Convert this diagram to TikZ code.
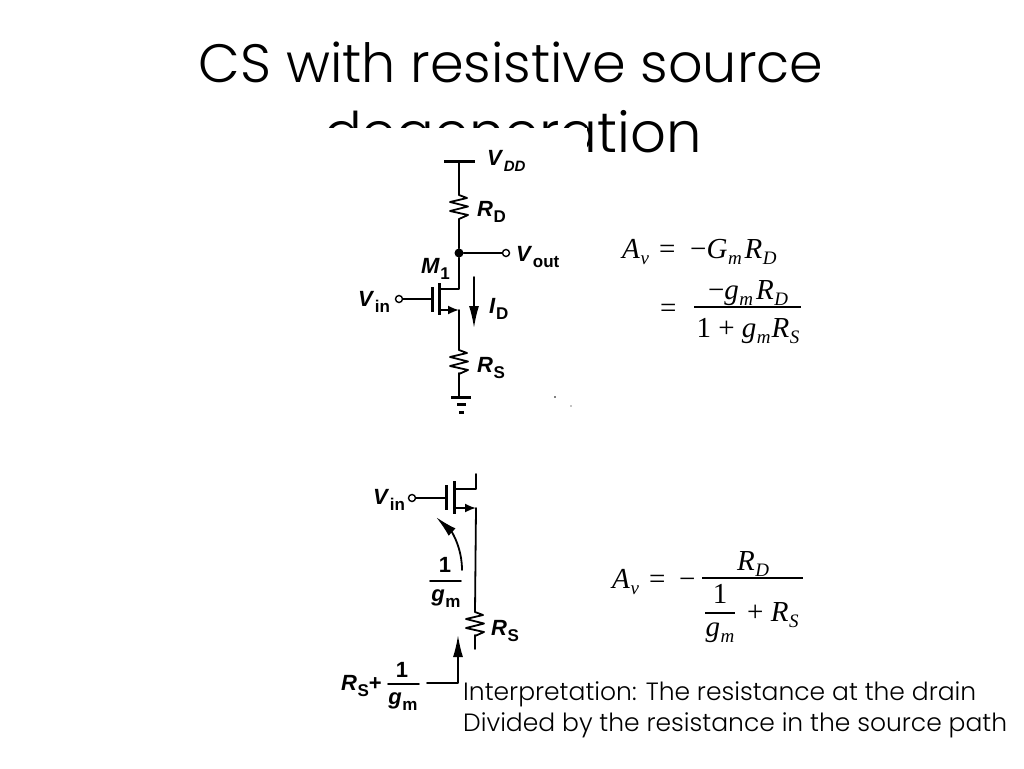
\documentclass[tikz,border=0pt]{standalone}
\usepackage{fontspec}
\setmainfont{Liberation Sans}
\newfontfamily\titlefont{Poppins Light}
\newfontfamily\bodyfont{Poppins Light}
\newfontfamily\eqfont{Liberation Serif}
\usetikzlibrary{arrows.meta}
\newcommand{\lblsub}[3]{\textbf{\textit{#1}}\kern.5pt\raisebox{-.3em}{\fontsize{#3}{#3}\selectfont\textbf{#2}}}
\newcommand{\iv}[1]{\textit{#1}}
\newcommand{\sbs}[1]{\kern.5pt\raisebox{-.22em}{\fontsize{19}{19}\selectfont\textit{#1}}}
\tikzset{
  x=1pt,y=-1pt,
  wire/.style={line width=1.8pt,black,line cap=round,line join=round},
  thick wire/.style={line width=3pt,black},
  title text/.style={inner sep=0,font=\titlefont\fontsize{54}{54}\selectfont,anchor=base},
  title wide/.style={inner sep=0,font=\titlefont\fontsize{56}{56}\selectfont,anchor=base},
  note text/.style={inner sep=0,font=\bodyfont\fontsize{25}{25}\selectfont,anchor=base west},
  clabel/.style={inner sep=0,font=\fontsize{22}{22}\selectfont,anchor=base west},
  eq/.style={inner sep=0,font=\eqfont\fontsize{29}{29}\selectfont,anchor=base west},
  port/.style={circle,draw=black,line width=1.4pt,fill=white,minimum size=7pt,inner sep=0},
  dot/.style={circle,fill=black,minimum size=9pt,inner sep=0},
  big tip/.style={-{Latex[length=22pt,width=10pt]}},
  src tip/.style={-{Latex[length=11pt,width=9pt]}},
  pics/zigzag/.style={code={
    \draw[wire] (0,0) -- (8,3) -- (-9,7) -- (9,11.5) -- (-9,16) -- (9,20) -- (0,24);
  }},
}
\begin{document}
\begin{tikzpicture}
\useasboundingbox (0,0) rectangle (1024,768);
\fill[white] (0,0) rectangle (1024,768);
% title, cut by the pasted circuit picture
\node[title text] (t1) at (511,82) {CS with resistive source};
\node[title wide] (t2) at (513,152) {degeneration};
\fill[white] (300,128) rectangle (587,175);

% --- upper circuit
\coordinate (vddL) at (444,161); \coordinate (vddR) at (475,161);
\coordinate (vddM) at (459,161);
\coordinate (rdT) at (459,195); \coordinate (rdB) at (459,219);
\node[dot] (nout) at (459,253) {};
\node[port] (pout) at (506,253) {};
\coordinate (dcorner) at (459,289); \coordinate (dstart) at (440,289);
\coordinate (scorner) at (459,310); \coordinate (sstart) at (440,310);
\coordinate (chT) at (439,283); \coordinate (chB) at (439,315);
\coordinate (gT) at (432,287); \coordinate (gB) at (432,312); \coordinate (gM) at (432,299);
\node[port] (pin) at (399,299) {};
\coordinate (rsT) at (459,350); \coordinate (rsB) at (459,373);
\coordinate (gnd) at (459,397);
\draw[thick wire] (vddL) -- (vddR);
\draw[wire] (vddM) -- (rdT);
\pic at (rdT) {zigzag};
\draw[wire] (rdB) -- (nout) -- (dcorner) -- (dstart);
\draw[wire] (nout) -- (pout);
\draw[wire] (pin) -- (gM);
\draw[thick wire] (gT) -- (gB);
\draw[thick wire] (chT) -- (chB);
\draw[wire,src tip] (sstart) -- (scorner);
\draw[wire] (scorner) -- (rsT);
\pic at (rsT) {zigzag};
\draw[wire] (rsB) -- (gnd);
\draw[thick wire] (451,397) -- (471,397);
\draw[thick wire] (457,404) -- (466,404);
\draw[thick wire] (459,412) -- (464,412);
\coordinate (idT) at (474,277); \coordinate (idB) at (474,328);
\draw[wire,big tip] (idT) -- (idB);
\node[clabel] (lvdd) at (487,165) {\lblsub{V}{\textit{DD}}{15}};
\node[clabel] (lrd) at (477,216) {\lblsub{R}{D}{17}};
\node[clabel] (lvout) at (516,261) {\lblsub{V}{out}{17}};
\node[clabel] (lm) at (421,273) {\lblsub{M}{1}{17}};
\node[clabel] (lvin) at (358,306) {\lblsub{V}{in}{17}};
\node[clabel] (lid) at (489,313) {\lblsub{I}{D}{17}};
\node[clabel] (lrs) at (477,372) {\lblsub{R}{S}{17}};
\fill (555,397) circle (.9pt);
\fill (571,406) circle (.7pt);

% --- lower circuit
\node[port] (pin2) at (412,498) {};
\coordinate (g2M) at (445,498); \coordinate (g2T) at (446,485); \coordinate (g2B) at (446,510);
\coordinate (c2T) at (454,481); \coordinate (c2B) at (454,514);
\coordinate (d2s) at (455,489); \coordinate (d2c) at (476,489); \coordinate (d2e) at (476,474);
\coordinate (s2s) at (455,508); \coordinate (s2c) at (476,508);
\coordinate (r2T) at (475,612); \coordinate (r2B) at (475,635); \coordinate (r2E) at (475,649);
\draw[wire] (pin2) -- (g2M);
\draw[thick wire] (g2T) -- (g2B);
\draw[thick wire] (c2T) -- (c2B);
\draw[wire] (d2s) -- (d2c) -- (d2e);
\draw[wire,src tip] (s2s) -- (s2c);
\draw[wire] (s2c) -- (r2T);
\pic at (r2T) {zigzag};
\draw[wire] (r2B) -- (r2E);
\coordinate (cS) at (462,570); \coordinate (cE) at (436,517);
\draw[wire,big tip] (cS) .. controls (462,548) and (452,532) .. (cE);
\coordinate (hS) at (427,683); \coordinate (hC) at (458,683); \coordinate (hE) at (458,635);
\draw[wire,big tip] (hS) -- (hC) -- (hE);
\node[clabel] (lvin2) at (373,504) {\lblsub{V}{in}{17}};
\node[clabel] (lrs2) at (491,635) {\lblsub{R}{S}{17}};
\node[clabel,anchor=base] (one1) at (445,572) {\textbf{1}};
\coordinate (b1L) at (430,581); \coordinate (b1R) at (461,581);
\draw[wire] (b1L) -- (b1R);
\node[clabel,anchor=base] (gm1) at (446,601) {\lblsub{g}{m}{17}};
\node[clabel] (lrs3) at (341,690) {\lblsub{R}{S}{17}\textbf{+}};
\node[clabel,anchor=base] (one2) at (402,677) {\textbf{1}};
\coordinate (b2L) at (388,684); \coordinate (b2R) at (419,684);
\draw[wire] (b2L) -- (b2R);
\node[clabel,anchor=base] (gm2) at (403,704) {\lblsub{g}{m}{17}};

% --- equations
\node[eq] (e1) at (622,258) {\iv{A}\sbs{v}};
\node[eq] (e2) at (659,258) {=};
\node[eq] (e3) at (690,258) {−\iv{G}\sbs{m}\kern3pt\iv{R}\sbs{D}};
\node[eq] (e4) at (660,317) {=};
\node[eq,anchor=base] (e5) at (748,299) {−\iv{g}\sbs{m}\kern3pt\iv{R}\sbs{D}};
\coordinate (f1L) at (694,307); \coordinate (f1R) at (801,307);
\draw[line width=1.2pt] (f1L) -- (f1R);
\node[eq,anchor=base] (e6) at (748,337) {1 + \iv{g}\sbs{m}\kern1pt\iv{R}\sbs{S}};
\node[eq] (e7) at (612,588) {\iv{A}\sbs{v}};
\node[eq] (e8) at (649,588) {=};
\node[eq] (e9) at (679,588) {−};
\node[eq,anchor=base] (e10) at (753,570) {\iv{R}\sbs{D}};
\coordinate (f2L) at (702,578); \coordinate (f2R) at (803,578);
\draw[line width=1.2pt] (f2L) -- (f2R);
\node[eq,anchor=base] (e11) at (720,603) {1};
\coordinate (f3L) at (705,613); \coordinate (f3R) at (735,613);
\draw[line width=1.2pt] (f3L) -- (f3R);
\node[eq,anchor=base] (e12) at (720,636) {\iv{g}\sbs{m}};
\node[eq] (e13) at (747,621) {+ \iv{R}\sbs{S}};

% --- note
\node[note text] (n1) at (463,700) {Interpretation: The resistance  at the drain};
\node[note text] (n2) at (463,731) {Divided by the resistance in the source path};
\end{tikzpicture}
\end{document}
